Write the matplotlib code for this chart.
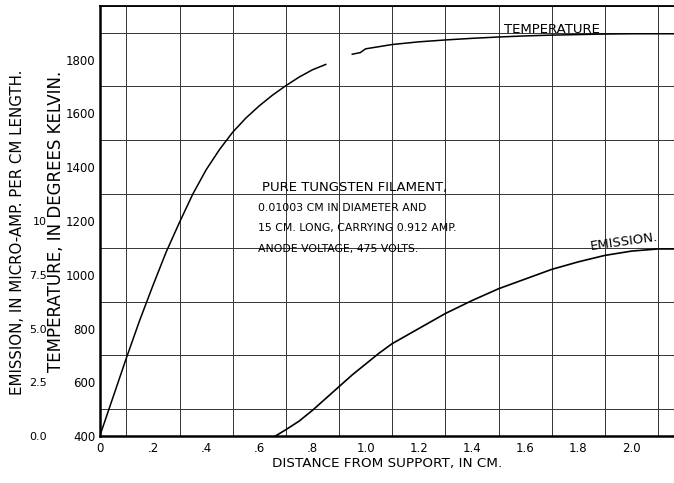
import numpy as np
import matplotlib.pyplot as plt

# --- data
dist_temp = [0.0, 0.05, 0.1, 0.15, 0.2, 0.25, 0.3, 0.35, 0.4, 0.45, 0.5, 0.55, 0.6, 0.65, 0.7, 0.75, 0.8, 0.85,
             0.9, 0.95, 0.98, 1.0, 1.1, 1.2, 1.3, 1.4, 1.5, 1.6, 1.7, 1.8, 1.9, 2.0, 2.1, 2.16]
temperature = [400, 545, 690, 830, 960, 1085, 1195, 1300, 1390, 1465, 1530, 1583, 1628, 1668, 1703, 1735, 1762, 1782,
               np.nan, 1820, 1826, 1840, 1856, 1866, 1873, 1879, 1884, 1888, 1891, 1893, 1895, 1896, 1896, 1896]

dist_em = [0.66, 0.7, 0.75, 0.8, 0.85, 0.9, 0.95, 1.0, 1.05, 1.1, 1.15, 1.2, 1.3, 1.4, 1.5, 1.6, 1.7, 1.8, 1.9, 2.0, 2.1, 2.16]
emission = [0.0, 0.3, 0.7, 1.2, 1.75, 2.3, 2.85, 3.35, 3.85, 4.3, 4.65, 5.0, 5.7, 6.3, 6.85, 7.3, 7.75, 8.1, 8.4, 8.6, 8.7, 8.7]

x_ticks = [0, 0.2, 0.4, 0.6, 0.8, 1.0, 1.2, 1.4, 1.6, 1.8, 2.0]
x_labels = ['0', '.2', '.4', '.6', '.8', '1.0', '1.2', '1.4', '1.6', '1.8', '2.0']
t_ticks = [400, 600, 800, 1000, 1200, 1400, 1600, 1800]
em_ticks = [0, 2.5, 5.0, 7.5, 10]
em_labels = ['0.0', '2.5', '5.0', '7.5', '10']

note = ['PURE TUNGSTEN FILAMENT,',
        '0.01003 CM IN DIAMETER AND',
        '15 CM. LONG, CARRYING 0.912 AMP.',
        'ANODE VOLTAGE, 475 VOLTS.']


def e2t(e):
    return 400 + 80 * np.asarray(e)

def t2e(t):
    return (np.asarray(t) - 400) / 80


narrow = ['Liberation Sans Narrow', 'DejaVu Sans']

fig = plt.figure(figsize=(6.74, 4.83), dpi=100)
ax = fig.add_axes([0.148, 0.097, 0.852, 0.891])

ax.set_xlim(0, 2.16)
ax.set_ylim(400, 2000)

# graph paper grid
ax.set_xticks(np.arange(0, 2.2, 0.1), minor=True)
ax.set_yticks(np.arange(400, 2001, 100), minor=True)
ax.grid(which='minor', color='#333333', lw=0.7)
ax.tick_params(which='both', length=0)

ax.plot(dist_temp, temperature, color='black', lw=1.1)
ax.plot(dist_em, e2t(emission), color='black', lw=1.2)

ax.set_xticks(x_ticks, labels=x_labels)
ax.set_yticks(t_ticks)
ax.tick_params(axis='x', pad=4, labelsize=8.5)
ax.tick_params(axis='y', pad=3, labelsize=8.5)

for s in ['left', 'bottom']:
    ax.spines[s].set_linewidth(1.8)
ax.spines['top'].set_linewidth(1.3)
ax.spines['right'].set_visible(False)

ax.set_xlabel('DISTANCE FROM SUPPORT, IN CM.', fontsize=9.7, labelpad=2)
ax.set_ylabel('TEMPERATURE, IN DEGREES KELVIN.', fontsize=12)
ax.yaxis.set_label_coords(-0.061, 0.498)

sec = ax.secondary_yaxis(-0.092, functions=(t2e, e2t))
sec.set_yticks(em_ticks, labels=em_labels)
sec.spines['left'].set_visible(False)
sec.tick_params(length=0, pad=0, labelsize=8)
sec.set_ylabel('EMISSION, IN MICRO-AMP. PER CM LENGTH.', fontsize=10.8)
sec.yaxis.set_label_coords(-0.131, 0.474, transform=ax.transAxes)

# curve names
ax.text(1.52, 1886, 'TEMPERATURE', fontsize=9.5, family=narrow, ha='left', va='bottom')
ax.text(1.84, e2t(8.5), 'EMISSION.', fontsize=9.5, family=narrow, ha='left', va='bottom', rotation=8)

# note, one line at a time (first line drawn larger)
for i, line in enumerate(note):
    ax.text(0.282 if i == 0 else 0.275, 0.577 - 0.047 * i, line, transform=ax.transAxes,
            fontsize=9.5 if i == 0 else 7.8, family=narrow, ha='left', va='center')

fig.savefig('out.png', dpi=100)
